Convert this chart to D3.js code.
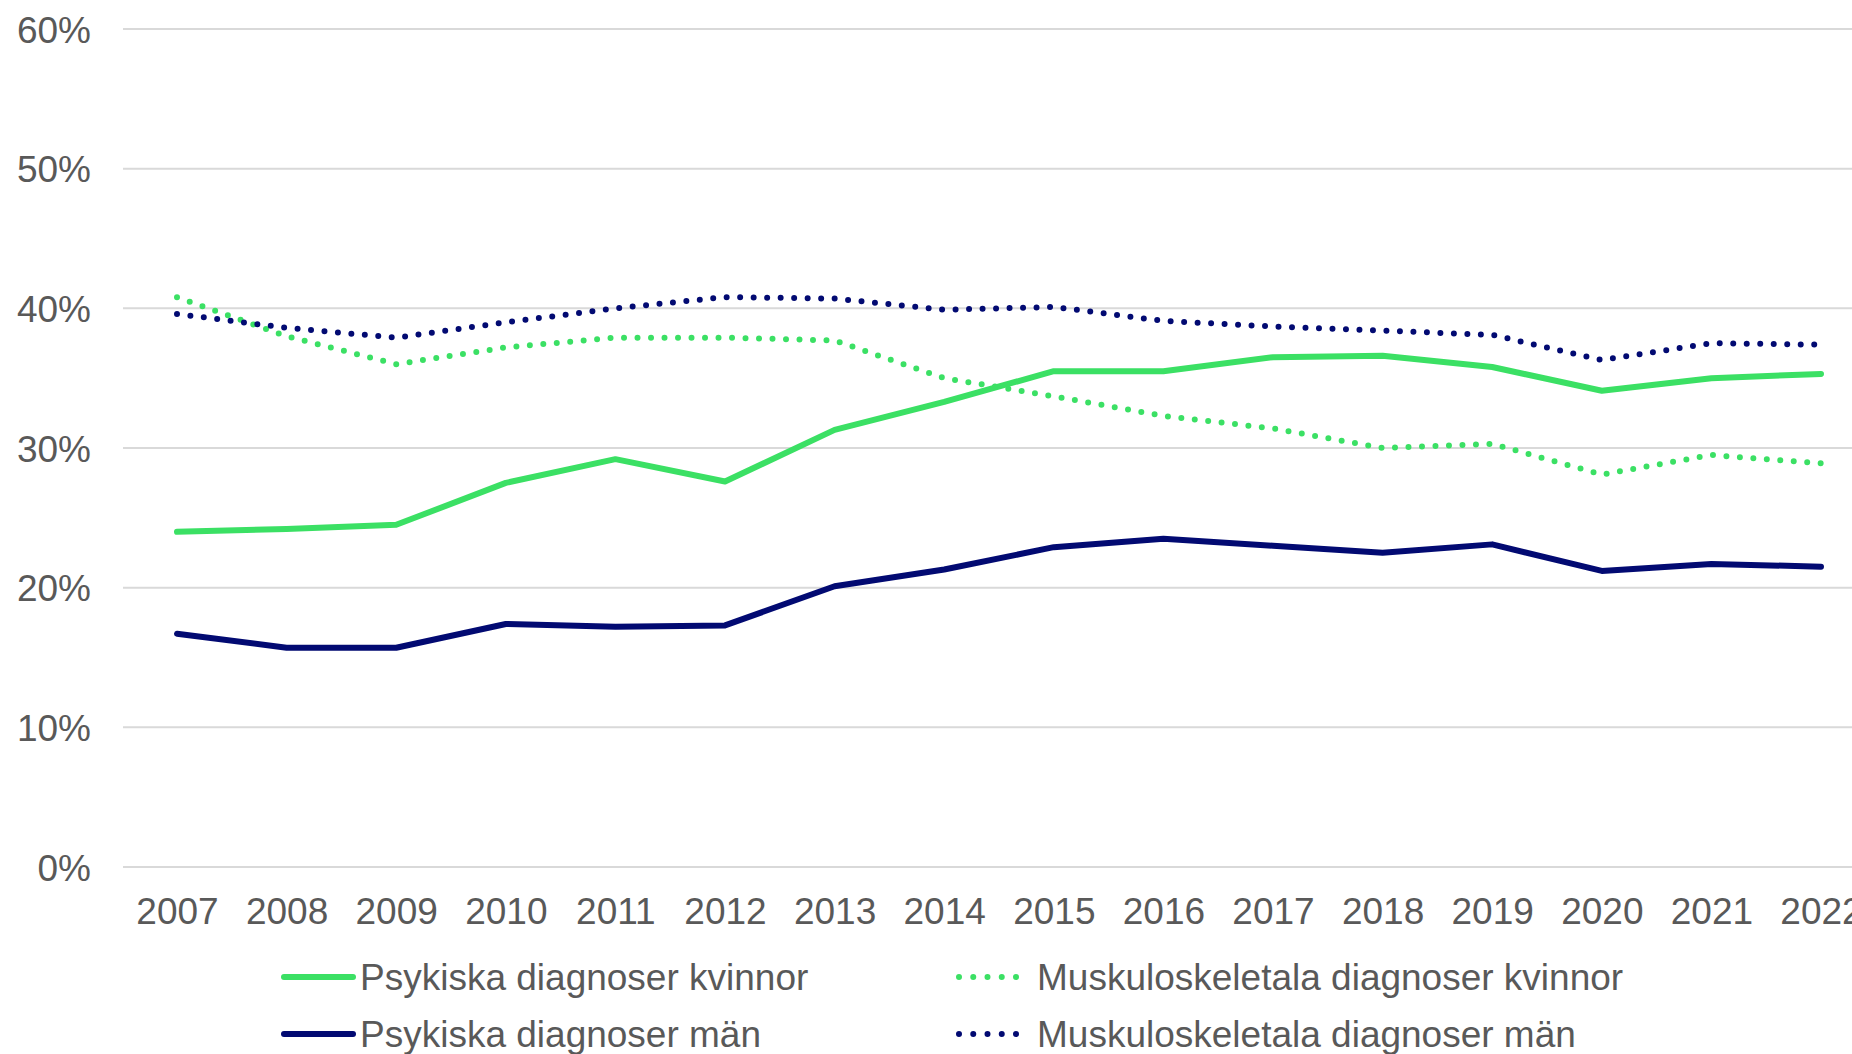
<!DOCTYPE html>
<html>
<head>
<meta charset="utf-8">
<script src="https://cdn.jsdelivr.net/npm/d3@7"></script>
<style>
    html, body { margin: 0; padding: 0; background: #fff; overflow: hidden; }
    svg { display: block; font-family: "Liberation Sans", Arial, sans-serif; }
</style>
</head>
<body>
<div id="chart"></div>
<script>
// years on the x axis
const years = [2007, 2008, 2009, 2010, 2011, 2012, 2013, 2014, 2015, 2016, 2017, 2018, 2019, 2020, 2021, 2022];

// share in percent
const psykKvinnor = [24.0, 24.2, 24.5, 27.5, 29.2, 27.6, 31.3, 33.3, 35.5, 35.5, 36.5, 36.6, 35.8, 34.1, 35.0, 35.3];
const psykMan = [16.7, 15.7, 15.7, 17.4, 17.2, 17.3, 20.1, 21.3, 22.9, 23.5, 23.0, 22.5, 23.1, 21.2, 21.7, 21.5];
const muskKvinnor = [40.8, 38.0, 36.0, 37.2, 37.9, 37.9, 37.7, 35.0, 33.7, 32.3, 31.4, 30.0, 30.3, 28.1, 29.5, 28.9];
const muskMan = [39.6, 38.6, 37.9, 39.0, 40.0, 40.8, 40.7, 39.9, 40.1, 39.1, 38.7, 38.4, 38.1, 36.3, 37.5, 37.4];

const yTicks = [0, 10, 20, 30, 40, 50, 60];

const seriesNames = [
    "Psykiska diagnoser kvinnor",
    "Muskuloskeletala diagnoser kvinnor",
    "Psykiska diagnoser män",
    "Muskuloskeletala diagnoser män"
];

const green = "#3be064";
const navy = "#020a72";

const series = [
    {name: seriesNames[0], values: psykKvinnor, color: green, dotted: false},
    {name: seriesNames[1], values: muskKvinnor, color: green, dotted: true},
    {name: seriesNames[2], values: psykMan, color: navy, dotted: false},
    {name: seriesNames[3], values: muskMan, color: navy, dotted: true}
];

const width = 1852, height = 1054;

const svg = d3.select("#chart")
    .append("svg")
    .attr("width", width)
    .attr("height", height);

const x = d3.scalePoint()
    .domain(years)
    .range([177, 1821]);

const y = d3.scaleLinear()
    .domain([0, 60])
    .range([867, 29]);

const fontSize = 37;
const textColor = "#595959";

// gridlines
svg.append("g")
    .selectAll("line")
    .data(yTicks)
    .join("line")
    .attr("x1", 123)
    .attr("x2", width)
    .attr("y1", d => y(d))
    .attr("y2", d => y(d))
    .attr("stroke", "#d9d9d9")
    .attr("stroke-width", 2);

// y axis labels
const yAxis = svg.append("g")
    .attr("transform", "translate(91,0)")
    .call(d3.axisLeft(y).tickValues(yTicks).tickSize(0).tickPadding(0).tickFormat(d => d + "%"));
yAxis.select(".domain").remove();
yAxis.selectAll("text")
    .attr("font-size", fontSize)
    .attr("font-family", "Liberation Sans, Arial, sans-serif")
    .attr("fill", textColor)
    .attr("dy", "0.36em");

// x axis labels
const xAxis = svg.append("g")
    .attr("transform", "translate(0,911)")
    .call(d3.axisBottom(x).tickSize(0).tickPadding(0));
xAxis.select(".domain").remove();
xAxis.selectAll("text")
    .attr("y", 0)
    .attr("font-size", fontSize)
    .attr("font-family", "Liberation Sans, Arial, sans-serif")
    .attr("fill", textColor)
    .attr("dy", "0.36em");

// lines
const line = d3.line()
    .x((d, i) => x(years[i]))
    .y(d => y(d));

svg.append("g")
    .selectAll("path")
    .data(series)
    .join("path")
    .attr("d", d => line(d.values))
    .attr("fill", "none")
    .attr("stroke", d => d.color)
    .attr("stroke-width", 6)
    .attr("stroke-linecap", "round")
    .attr("stroke-linejoin", "round")
    .attr("stroke-dasharray", d => d.dotted ? "0 13.5" : null);

// legend
const legendPos = [
    {x: 284, y: 977},
    {x: 956, y: 977},
    {x: 284, y: 1034},
    {x: 956, y: 1034}
];

const legend = svg.append("g")
    .selectAll("g")
    .data(series)
    .join("g")
    .attr("transform", (d, i) => `translate(${legendPos[i].x},${legendPos[i].y})`);

legend.append("line")
    .attr("x1", d => d.dotted ? 3 : 0)
    .attr("x2", d => d.dotted ? 61 : 69)
    .attr("y1", 0)
    .attr("y2", 0)
    .attr("stroke", d => d.color)
    .attr("stroke-width", 6)
    .attr("stroke-linecap", "round")
    .attr("stroke-dasharray", d => d.dotted ? "0 14.25" : null);

legend.append("text")
    .attr("x", d => d.dotted ? 81 : 76)
    .attr("y", 0)
    .attr("dy", "0.36em")
    .attr("font-size", fontSize)
    .attr("fill", textColor)
    .text(d => d.name);
</script>
</body>
</html>
